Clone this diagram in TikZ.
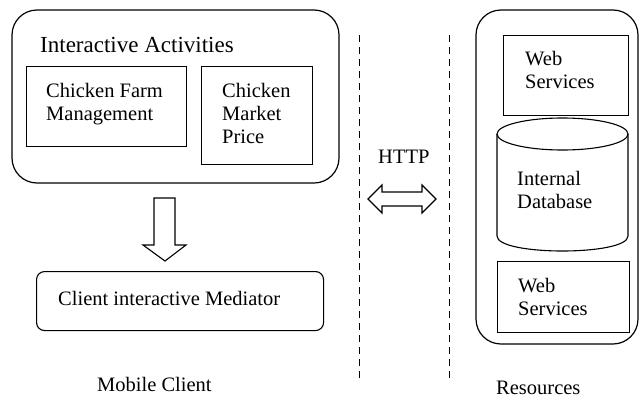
\documentclass[tikz,border=0pt]{standalone}
\usepackage{fontspec}
\setmainfont{Liberation Serif}
\newfontfamily\diafont{Liberation Serif}
\begin{document}
\begin{tikzpicture}[x=1pt,y=-1pt,
  every node/.style={font=\diafont\fontsize{20.5}{23}\selectfont},
  lbl/.style={anchor=base west,inner sep=0pt,align=left},
  box/.style={draw,line width=1.1pt,rectangle,inner sep=0pt,anchor=north west},
  outer/.style={draw,line width=1.2pt,rounded corners=25pt},
  blockarrow/.style={draw,line width=1.1pt,fill=white,line join=miter},
  divider/.style={line width=1pt,dash pattern=on 7pt off 5pt}]
\useasboundingbox (0,0) rectangle (639,399);
% Mobile client container
\draw[outer] (12,10) rectangle (339,183);
\node[lbl,font=\diafont\fontsize{23}{26}\selectfont] (title) at (40,52) {Interactive Activities};
\node[box,minimum width=160pt,minimum height=80pt] (farm) at (26,66) {};
\node[lbl] (farmtxt) at (46,120) {Chicken Farm\\Management};
\node[box,minimum width=111pt,minimum height=98pt] (market) at (201,66) {};
\node[lbl] (markettxt) at (222,143) {Chicken\\Market\\Price};
% down arrow
\draw[blockarrow] (154,198) -- (175,198) -- (175,245) -- (186,245) -- (165,261) -- (143,245) -- (154,245) -- cycle;
% mediator
\node[draw,line width=1.1pt,rounded corners=8pt,minimum width=287pt,minimum height=59pt,anchor=north west,inner sep=0pt] (med) at (36,271) {};
\node[lbl] (medtxt) at (58,305) {Client interactive Mediator};
\node[lbl] (mobile) at (97,391) {Mobile Client};
% dividers
\coordinate (d1t) at (359,35); \coordinate (d1b) at (359,382);
\coordinate (d2t) at (449,35); \coordinate (d2b) at (449,382);
\draw[divider] (d1t) -- (d1b);
\draw[divider] (d2t) -- (d2b);
\node[lbl] (http) at (378,163) {HTTP};
\draw[blockarrow] (368,199) -- (382,185) -- (382,192) -- (422,192) -- (422,185) -- (436,199) -- (422,213) -- (422,206) -- (382,206) -- (382,213) -- cycle;
% resources container
\draw[outer] (476,10) rectangle (638,344);
\node[box,minimum width=125pt,minimum height=80pt] (ws1) at (503,35) {};
\node[lbl] (ws1txt) at (525,88) {Web\\Services};
% cylinder
\draw[line width=1.1pt] (497,134) -- (497,236) .. controls (497,256) and (628,256) .. (628,236) -- (628,134);
\draw[line width=1.1pt] (562.5,134) ellipse [x radius=65.5pt, y radius=16pt];
\node[lbl] (dbtxt) at (517,208) {Internal\\Database};
\node[box,minimum width=132pt,minimum height=71pt] (ws2) at (497,261) {};
\node[lbl] (ws2txt) at (518,315) {Web\\Services};
\node[lbl] (res) at (496,394) {Resources};
\end{tikzpicture}
\end{document}
